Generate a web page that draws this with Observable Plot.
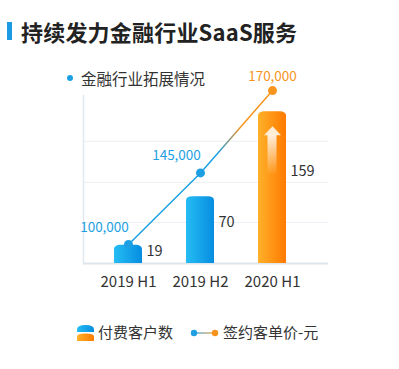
<!DOCTYPE html>
<html><head><meta charset="utf-8">
<script src="https://cdn.jsdelivr.net/npm/d3@7"></script>
<script src="https://cdn.jsdelivr.net/npm/@observablehq/plot@0.6"></script>
<style>
html,body{margin:0;padding:0;background:#fff;}
#wrap{position:relative;width:399px;height:369px;overflow:hidden;font-family:"Noto Sans CJK SC","Noto Sans",sans-serif;}
#chart{position:absolute;left:0;top:0;}
.abs{position:absolute;white-space:nowrap;}
</style></head>
<body>
<svg width="0" height="0" style="position:absolute">
<defs>
<linearGradient id="gBlue" x1="0" x2="1" y1="0" y2="0"><stop offset="0" stop-color="#25bdf4"/><stop offset="1" stop-color="#078de0"/></linearGradient>
<linearGradient id="gOrange" x1="0" x2="1" y1="0" y2="0"><stop offset="0" stop-color="#ffb12a"/><stop offset="1" stop-color="#ff7a00"/></linearGradient>
<linearGradient id="gArrow" x1="0" x2="0" y1="0" y2="1"><stop offset="0" stop-color="#fff" stop-opacity="0.85"/><stop offset="1" stop-color="#fff" stop-opacity="0"/></linearGradient>
<linearGradient id="gLine" x1="0" x2="1" y1="0" y2="0"><stop offset="0.62" stop-color="#1e9fe3"/><stop offset="0.78" stop-color="#f7941d"/></linearGradient>
<linearGradient id="gLegLine" gradientUnits="userSpaceOnUse" x1="5" x2="26" y1="0" y2="0"><stop offset="0" stop-color="#1e9fe3"/><stop offset="1" stop-color="#f7941d"/></linearGradient>
</defs></svg>
<div id="wrap">
  <div id="chart"></div>
  <div class="abs" style="left:7px;top:22px;width:5px;height:18px;background:#1a9be3;"></div>
  <div class="abs" style="left:21px;top:16px;font-size:22px;line-height:30px;font-weight:700;color:#222;letter-spacing:0.2px;">持续发力金融行业SaaS服务</div>
  <div class="abs" style="left:67px;top:75px;width:6px;height:6px;border-radius:50%;background:#1e9fe3;"></div>
  <div class="abs" style="left:81px;top:67px;font-size:15.5px;line-height:22px;color:#333;">金融行业拓展情况</div>
  <svg class="abs" style="left:77px;top:325px;" width="17" height="16">
    <path d="M0,7 V4.5 Q0,0 8.5,0 Q17,0 17,4.5 V7 Z" fill="url(#gBlue)"/>
    <path d="M0,16 V11.5 Q0,8.5 8.5,8.5 Q17,8.5 17,11.5 V16 Z" fill="url(#gOrange)"/>
  </svg>
  <div class="abs" style="left:98px;top:321px;font-size:15px;line-height:22px;color:#333;">付费客户数</div>
  <svg class="abs" style="left:189px;top:328px;" width="31" height="10">
    <line x1="5" x2="26" y1="5" y2="5" stroke="url(#gLegLine)" stroke-width="1.2"/>
    <circle cx="5" cy="5" r="3.2" fill="#1e9fe3"/>
    <circle cx="26" cy="5" r="3.2" fill="#f7941d"/>
  </svg>
  <div class="abs" style="left:223px;top:321px;font-size:15px;line-height:22px;color:#333;">签约客单价-元</div>
</div>
<script>
const periods = ["2019 H1", "2019 H2", "2020 H1"];
const customers = [19, 70, 159];
const prices = [100000, 145000, 170000];
const priceLabels = ["100,000", "145,000", "170,000"];
const gridTicks = [43, 85, 128];

const data = periods.map((p, i) => ({period: p, customers: customers[i], price: prices[i], label: priceLabels[i]}));
const highlight = "2020 H1";
const blueBars = data.filter(d => d.period !== highlight);
const orangeBars = data.filter(d => d.period === highlight);

// price line uses its own (non-linear) scale mapped into the chart's vertical units
const priceY = d3.scalePow().exponent(4).domain([55200, 168800]).range([0, 176]);

const blue = "#1e9fe3", orange = "#f7941d";
const arrowHead = {
  draw(ctx, size) {
    const r = Math.sqrt(size / Math.PI);
    ctx.moveTo(0, -r * 0.55);
    ctx.lineTo(r, r * 0.5);
    ctx.lineTo(-r, r * 0.5);
    ctx.closePath();
  }
};

const chart = Plot.plot({
  width: 399, height: 369,
  marginLeft: 83, marginRight: 71, marginTop: 95, marginBottom: 106,
  style: {fontFamily: '"Noto Sans CJK SC","Noto Sans",sans-serif', background: "transparent", overflow: "visible"},
  x: {type: "band", domain: periods, paddingInner: 0.614, paddingOuter: 0.4966, align: 0.4167, axis: null, label: null},
  y: {domain: [0, 176], axis: null, label: null},
  marks: [
    Plot.ruleY(gridTicks, {stroke: "#eceff3", strokeWidth: 1}),
    Plot.frame({anchor: "left", stroke: "#e3e7ee", strokeWidth: 1.5}),
    Plot.ruleY([0], {stroke: "#dfe5ec", strokeWidth: 2}),
    Plot.axisX({tickSize: 0, tickPadding: 13, fontSize: 15, fill: "#333", label: null}),
    Plot.barY(blueBars, {x: "period", y: "customers", fill: "url(#gBlue)", rx: 6, ry: 4}),
    Plot.barY(blueBars, {x: "period", y: d => d.customers / 2, fill: "url(#gBlue)"}),
    Plot.barY(orangeBars, {x: "period", y: "customers", fill: "url(#gOrange)", rx: 6, ry: 4}),
    Plot.barY(orangeBars, {x: "period", y: d => d.customers / 2, fill: "url(#gOrange)"}),
    Plot.barY(orangeBars, {x: "period", y1: d => d.customers * 0.58, y2: d => d.customers * 0.845, fill: "url(#gArrow)", insetLeft: 9.5, insetRight: 9.5}),
    Plot.dot(orangeBars, {x: "period", y: d => d.customers * 0.873, r: 8.5, symbol: arrowHead, fill: "#fff4e6", fillOpacity: 0.92, stroke: null}),
    Plot.text(data, {x: "period", y: d => d.customers * 0.6 + 1, text: d => String(d.customers), textAnchor: "start", dx: 18, fontSize: 14.5, fill: "#333"}),
    Plot.line(data, {x: "period", y: d => priceY(d.price), stroke: "url(#gLine)", strokeWidth: 1.5}),
    Plot.dot(blueBars, {x: "period", y: d => priceY(d.price), r: 4.5, fill: blue}),
    Plot.dot(orangeBars, {x: "period", y: d => priceY(d.price), r: 4.5, fill: orange}),
    Plot.text(blueBars, {x: "period", y: d => priceY(d.price), text: "label", dx: -24, dy: -17, fontSize: 13.5, fill: blue}),
    Plot.text(orangeBars, {x: "period", y: d => priceY(d.price), text: "label", dy: -14, fontSize: 13.5, fill: orange})
  ]
});
document.getElementById("chart").appendChild(chart);
</script>
</body></html>
